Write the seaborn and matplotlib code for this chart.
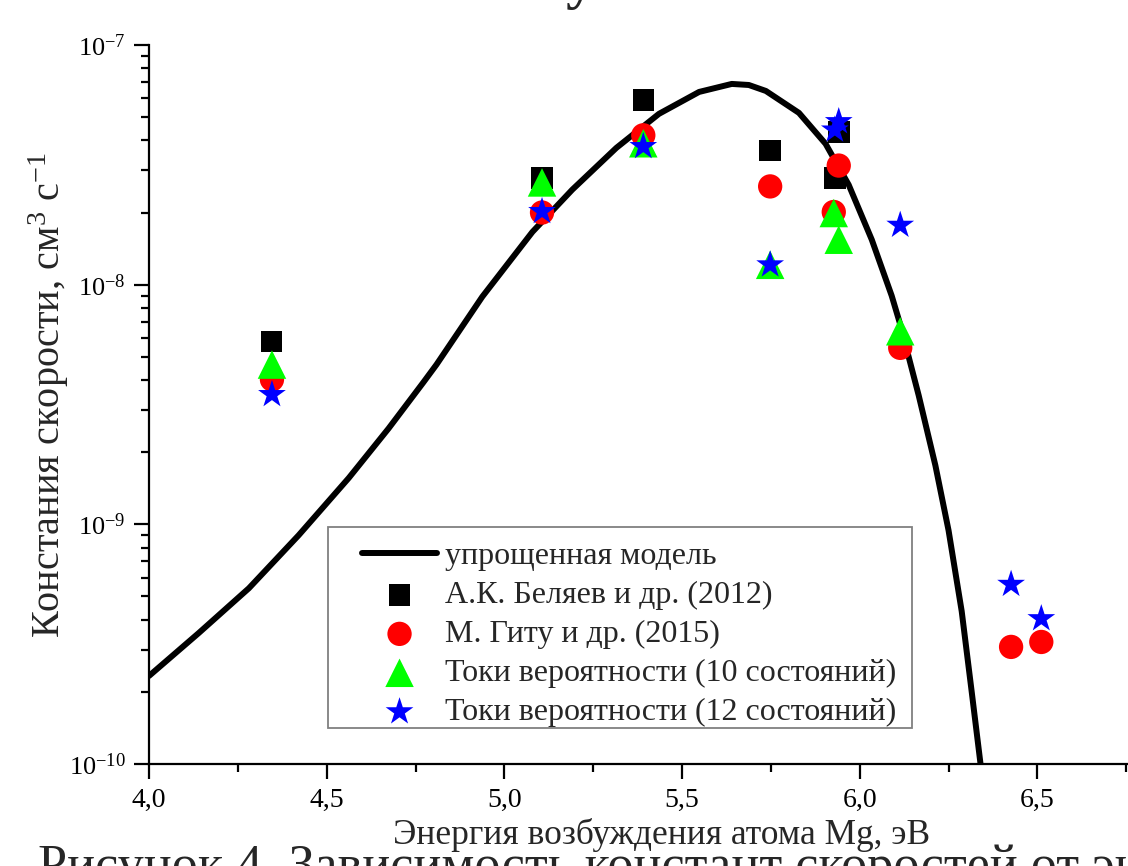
import numpy as np
import matplotlib
matplotlib.use("Agg")
import matplotlib.pyplot as plt
import seaborn as sns
from matplotlib.patches import Rectangle
from matplotlib.ticker import FixedLocator, FixedFormatter, LogLocator, NullFormatter, MultipleLocator

# simplified model curve
model_x = [4.000, 4.140, 4.281, 4.421, 4.562, 4.674, 4.772, 4.809, 4.938, 5.079,
           5.191, 5.315, 5.435, 5.548, 5.640, 5.688, 5.736, 5.829, 5.904, 5.969,
           6.034, 6.090, 6.115, 6.166, 6.213, 6.250, 6.287, 6.315, 6.340, 6.346]
model_k = [2.33e-10, 3.52e-10, 5.41e-10, 9.0e-10, 1.56e-9, 2.51e-9, 3.91e-9, 4.64e-9, 8.91e-9, 1.66e-8,
           2.49e-8, 3.72e-8, 5.16e-8, 6.37e-8, 6.88e-8, 6.81e-8, 6.43e-8, 5.21e-8, 3.87e-8, 2.61e-8,
           1.54e-8, 8.99e-9, 6.75e-9, 3.45e-9, 1.76e-9, 9.44e-10, 4.34e-10, 2.01e-10, 1.0e-10, 8.3e-11]

# Belyaev et al. (2012)
belyaev_x = [4.345, 5.106, 5.391, 5.748, 5.941, 5.930]
belyaev_k = [5.8e-9, 2.78e-8, 5.9e-8, 3.63e-8, 4.34e-8, 2.79e-8]

# Guitou et al. (2015)
guitou_x = [4.346, 5.106, 5.391, 5.748, 5.941, 5.927, 6.114, 6.426, 6.511]
guitou_k = [4.02e-9, 2.0e-8, 4.2e-8, 2.57e-8, 3.14e-8, 2.01e-8, 5.45e-9, 3.08e-10, 3.23e-10]

# probability currents, 10 states
flux10_x = [4.346, 5.106, 5.391, 5.748, 5.927, 5.941, 6.114]
flux10_k = [4.64e-9, 2.67e-8, 3.89e-8, 1.21e-8, 1.99e-8, 1.54e-8, 6.39e-9]

# probability currents, 12 states
flux12_x = [4.346, 5.106, 5.391, 5.748, 5.941, 5.930, 6.114, 6.426, 6.511]
flux12_k = [3.48e-9, 2.02e-8, 3.77e-8, 1.21e-8, 4.79e-8, 4.42e-8, 1.77e-8, 5.62e-10, 4.04e-10]

xtick_vals = [4.0, 4.5, 5.0, 5.5, 6.0, 6.5]
xtick_labels = ["4,0", "4,5", "5,0", "5,5", "6,0", "6,5"]
ytick_vals = [1e-10, 1e-9, 1e-8, 1e-7]
ytick_labels = ["10$^{-10}$", "10$^{-9}$", "10$^{-8}$", "10$^{-7}$"]

sns.set_style("ticks")
plt.rcParams['font.family'] = ['Liberation Serif', 'DejaVu Serif']
plt.rcParams['mathtext.fontset'] = 'custom'
plt.rcParams['mathtext.rm'] = 'Liberation Serif'
plt.rcParams['mathtext.it'] = 'Liberation Serif:italic'
plt.rcParams['mathtext.bf'] = 'Liberation Serif:bold'

fig = plt.figure(figsize=(11.28, 8.66), dpi=100)
ax = fig.add_axes([149 / 1128, 1 - 764 / 866, (1128 - 149) / 1128, 719 / 866])

sns.lineplot(x=model_x, y=model_k, color='black', linewidth=4.3, sort=False,
             label='упрощенная модель', ax=ax, zorder=1,
             solid_joinstyle='round', solid_capstyle='round')

series = [
    (belyaev_x, belyaev_k, 's', 15.5, 'black', 'А.К. Беляев и др. (2012)'),
    (guitou_x, guitou_k, 'o', 17.5, 'red', 'М. Гиту и др. (2015)'),
    (flux10_x, flux10_k, '^', 20.5, '#00ff00', 'Токи вероятности (10 состояний)'),
    (flux12_x, flux12_k, '*', 21, 'blue', 'Токи вероятности (12 состояний)'),
]
for i, (xs, ks, mk, ms, col, lab) in enumerate(series):
    sns.scatterplot(x=xs, y=ks, marker=mk, s=ms ** 2, color=col, edgecolor='none',
                    linewidth=0, label=lab, ax=ax, zorder=2 + i)

ax.set_yscale('log')
ax.set_ylim(1e-10, 1e-7)
ax.set_xlim(4.0, 6.755)
ax.xaxis.set_major_locator(FixedLocator(xtick_vals))
ax.xaxis.set_major_formatter(FixedFormatter(xtick_labels))
ax.xaxis.set_minor_locator(MultipleLocator(0.25))
ax.yaxis.set_major_locator(FixedLocator(ytick_vals))
ax.yaxis.set_major_formatter(FixedFormatter(ytick_labels))
ax.yaxis.set_minor_locator(LogLocator(base=10, subs=np.arange(2, 10), numticks=20))
ax.yaxis.set_minor_formatter(NullFormatter())

for side in ['top', 'right']:
    ax.spines[side].set_visible(False)
for side in ['left', 'bottom']:
    ax.spines[side].set_linewidth(1.6)
    ax.spines[side].set_color('black')
ax.tick_params(which='major', direction='out', length=11, width=1.6,
               color='black', labelcolor='black', pad=6)
ax.tick_params(axis='x', which='major', labelsize=20)
ax.tick_params(axis='y', which='major', labelsize=19)
ax.tick_params(which='minor', direction='out', length=6, width=1.6, color='black')

ax.set_xlabel('Энергия возбуждения атома Mg, эВ', fontsize=25.5)
ax.xaxis.set_label_coords((662 - 149) / 979, -0.075)
ax.set_ylabel('Констания скорости, см$^{3}$ с$^{-1}$', fontsize=29)
ax.yaxis.set_label_coords(-0.08, 0.513)

# legend frame as in the original (wide left margin)
fig.add_artist(Rectangle((328 / 1128, 1 - 728 / 866), 584 / 1128, 201 / 866,
                         transform=fig.transFigure, fill=False,
                         edgecolor='#808080', linewidth=1.3))
handles, labels = ax.get_legend_handles_labels()
ax.legend(handles, labels, loc='upper left',
          bbox_to_anchor=(362 / 1128, 1 - 542 / 866), bbox_transform=fig.transFigure,
          borderaxespad=0, borderpad=0, fontsize=23, frameon=False,
          handlelength=2.35, handletextpad=0.25, labelspacing=0.30, scatterpoints=1)

# fragments of the surrounding page text
fig.text(580 / 1128, 1.0 + 2 / 866, 'у', fontsize=42, fontweight='bold',
         ha='center', va='baseline')
fig.text(38 / 1128, 1 - 881 / 866, 'Рисунок 4. Зависимость констант скоростей от энергии',
         fontsize=37.5, ha='left', va='baseline')

fig.savefig('out.png', dpi=100)
